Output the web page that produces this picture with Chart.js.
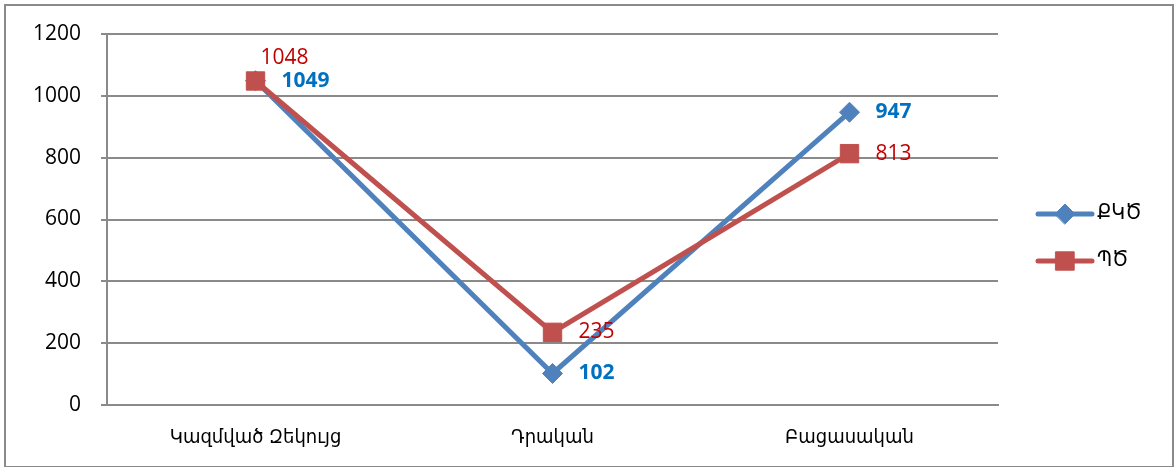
<!DOCTYPE html>
<html>
<head>
<meta charset="utf-8">
<script src="https://cdn.jsdelivr.net/npm/chart.js@4/dist/chart.umd.min.js"></script>
<style>
  html, body { margin: 0; padding: 0; background: #fff; }
  #wrap { width: 1174px; height: 467px; position: relative; }
</style>
</head>
<body>
<div id="wrap"><canvas id="chart"></canvas></div>
<script>
var categories = ['Կազմված Զեկույց', 'Դրական', 'Բացասական'];
var kkdValues = [1049, 102, 947];
var pdValues = [1048, 235, 813];
var seriesNames = ['ՔԿԾ', 'ՊԾ'];
var yTicks = [0, 200, 400, 600, 800, 1000, 1200];

var FONT = "'Open Sans', 'DejaVu Sans', sans-serif";
var ARM_FONT = "'DejaVu Sans Condensed', 'DejaVu Sans', sans-serif";
var BLUE = '#4f81bd', RED = '#c0504d';

// frame round the whole picture
var framePlugin = {
    id: 'frame',
    beforeDraw: function(chart) {
        var ctx = chart.ctx;
        ctx.save();
        ctx.fillStyle = '#fff';
        ctx.fillRect(0, 0, chart.width, chart.height);
        ctx.strokeStyle = '#8a8a8a';
        ctx.lineWidth = 2;
        ctx.strokeRect(5, 5, chart.width - 6, chart.height - 5);
        ctx.restore();
    }
};

// value labels next to each point
var labelPlugin = {
    id: 'valueLabels',
    afterDatasetsDraw: function(chart) {
        var ctx = chart.ctx;
        ctx.save();
        ctx.textBaseline = 'middle';
        ctx.textAlign = 'left';
        chart.data.datasets.forEach(function(ds, di) {
            var meta = chart.getDatasetMeta(di);
            meta.data.forEach(function(pt, i) {
                var dx = 26, dy = 0;
                if (di == 1 && i == 0) { dx = 5; dy = -23; }
                ctx.font = (di == 0 ? 'bold ' : '') + '21px ' + FONT;
                ctx.fillStyle = di == 0 ? '#0070c0' : '#c00000';
                ctx.fillText(ds.data[i], pt.x + dx, pt.y + dy);
            });
        });
        ctx.restore();
    }
};

// legend on the right: line with marker
var legendPlugin = {
    id: 'sideLegend',
    afterDraw: function(chart) {
        var ctx = chart.ctx;
        ctx.save();
        var rows = [214, 261];
        chart.data.datasets.forEach(function(ds, di) {
            var y = rows[di];
            ctx.strokeStyle = ds.borderColor;
            ctx.lineWidth = 5;
            ctx.lineCap = 'round';
            ctx.beginPath();
            ctx.moveTo(1038, y);
            ctx.lineTo(1092, y);
            ctx.stroke();
            ctx.fillStyle = ds.pointBackgroundColor;
            ctx.strokeStyle = ds.pointBorderColor;
            ctx.lineWidth = 1;
            Chart.helpers.drawPoint(ctx, {pointStyle: ds.pointStyle, radius: ds.pointRadius, borderWidth: 1}, 1065, y);
            ctx.fillStyle = '#000';
            ctx.font = '21px ' + ARM_FONT;
            ctx.textBaseline = 'middle';
            ctx.fillText(ds.label, 1097, y);
        });
        ctx.restore();
    }
};

new Chart(document.getElementById('chart'), {
    type: 'line',
    data: {
        labels: categories,
        datasets: [
            {
                label: seriesNames[0],
                data: kkdValues,
                borderColor: BLUE,
                borderWidth: 5,
                pointStyle: 'rectRot',
                pointRadius: 10,
                pointBackgroundColor: BLUE,
                pointBorderColor: BLUE,
                pointBorderWidth: 1,
                tension: 0,
                order: 2
            },
            {
                label: seriesNames[1],
                data: pdValues,
                borderColor: RED,
                borderWidth: 5,
                pointStyle: 'rect',
                pointRadius: 13,
                pointBackgroundColor: RED,
                pointBorderColor: RED,
                pointBorderWidth: 1,
                tension: 0,
                order: 1
            }
        ]
    },
    options: {
        responsive: true,
        maintainAspectRatio: false,
        animation: false,
        layout: { padding: { top: 34, right: 176, bottom: 4, left: 13 } },
        plugins: {
            legend: { display: false },
            tooltip: { enabled: false }
        },
        scales: {
            x: {
                offset: true,
                grid: { display: false },
                border: { color: '#8a8a8a', width: 2 },
                ticks: { color: '#000', font: { family: ARM_FONT, size: 20 }, padding: 13 }
            },
            y: {
                min: 0,
                max: 1200,
                afterBuildTicks: function(axis) {
                    axis.ticks = yTicks.map(function(v) { return {value: v}; });
                },
                grid: { color: '#8a8a8a', lineWidth: 2, tickLength: 6 },
                border: { color: '#8a8a8a', width: 2 },
                ticks: {
                    color: '#000',
                    font: { family: FONT, size: 21 },
                    padding: 20,
                    callback: function(v) { return String(v); }
                }
            }
        }
    },
    plugins: [framePlugin, labelPlugin, legendPlugin]
});
</script>
</body>
</html>
